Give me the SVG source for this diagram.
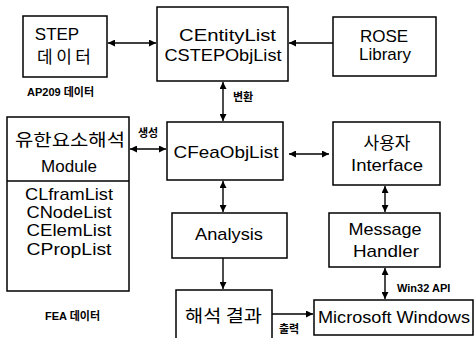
<svg xmlns="http://www.w3.org/2000/svg" width="476" height="338" viewBox="0 0 476 338">
<defs>
<marker id="ah" viewBox="0 0 10 10" refX="10" refY="5" markerWidth="8" markerHeight="7" markerUnits="userSpaceOnUse" orient="auto-start-reverse">
<path d="M0,0 L10,5 L0,10 z" fill="#000"/>
</marker>
<style>
.box{fill:#fff;stroke:#000;stroke-width:1.5}
.t{font-family:"Liberation Sans","Noto Sans CJK KR",sans-serif;font-size:17px;fill:#000;text-anchor:middle}
.k{font-family:"Noto Sans CJK KR","Liberation Sans",sans-serif;font-size:17px;fill:#000;text-anchor:middle}
.s{font-family:"Liberation Sans","Noto Sans CJK KR",sans-serif;font-size:11px;font-weight:bold;fill:#000}
.c{stroke:#000;stroke-width:1.4;fill:none}
.d{marker-start:url(#ah);marker-end:url(#ah)}
.e{marker-end:url(#ah)}
</style>
</defs>
<g id="connectors">
<line class="c d" x1="108" y1="43" x2="156" y2="43"/>
<line class="c e" x1="333" y1="43" x2="289" y2="43"/>
<line class="c d" x1="223" y1="82" x2="223" y2="121"/>
<line class="c d" x1="130" y1="149" x2="166" y2="149"/>
<line class="c d" x1="289" y1="154" x2="329" y2="154"/>
<line class="c d" x1="223" y1="181" x2="223" y2="212"/>
<line class="c e" x1="223" y1="258" x2="223" y2="289"/>
<line class="c d" x1="385" y1="186" x2="385" y2="212"/>
<line class="c d" x1="385" y1="268" x2="385" y2="299"/>
<line class="c e" x1="272" y1="314" x2="313" y2="314"/>
</g>
<g id="step">
<rect class="box" x="23" y="16" width="84" height="61"/>
<text class="t" x="57" y="40">STEP</text>
<text class="k" x="64" y="63" font-size="15" textLength="54" lengthAdjust="spacing">데이터</text>
</g>
<g id="ap209"><text class="s" x="27" y="96">AP209 데이터</text></g>
<g id="centity">
<rect class="box" x="157" y="7" width="131" height="74"/>
<text class="t" x="227.5" y="41" textLength="97" lengthAdjust="spacingAndGlyphs">CEntityList</text>
<text class="t" x="223" y="61" textLength="117" lengthAdjust="spacingAndGlyphs">CSTEPObjList</text>
</g>
<g id="rose">
<rect class="box" x="333" y="17" width="103" height="59"/>
<text class="t" x="384" y="42">ROSE</text>
<text class="t" x="385" y="60">Library</text>
</g>
<g id="henhwan"><text class="s" x="233" y="101">변환</text></g>
<g id="saengseong"><text class="s" x="138" y="137">생성</text></g>
<g id="fem">
<rect class="box" x="7" y="117" width="122" height="174"/>
<line class="c" x1="7" y1="181" x2="129" y2="181"/>
<text class="k" x="70" y="146" font-size="18" textLength="110" lengthAdjust="spacingAndGlyphs">유한요소해석</text>
<text class="t" x="69" y="172">Module</text>
<text class="t" x="69" y="200" textLength="88" lengthAdjust="spacingAndGlyphs">CLframList</text>
<text class="t" x="69" y="218" textLength="85" lengthAdjust="spacingAndGlyphs">CNodeList</text>
<text class="t" x="69" y="236" textLength="85" lengthAdjust="spacingAndGlyphs">CElemList</text>
<text class="t" x="69" y="255" textLength="85" lengthAdjust="spacingAndGlyphs">CPropList</text>
</g>
<g id="fea"><text class="s" x="45" y="320" font-weight="normal">FEA 데이터</text></g>
<g id="cfea">
<rect class="box" x="167" y="122" width="116" height="58"/>
<text class="t" x="226" y="158" textLength="105" lengthAdjust="spacingAndGlyphs">CFeaObjList</text>
</g>
<g id="user">
<rect class="box" x="333" y="122" width="107" height="63"/>
<text class="k" x="387" y="149">사용자</text>
<text class="t" x="387" y="171" textLength="72" lengthAdjust="spacingAndGlyphs">Interface</text>
</g>
<g id="analysis">
<rect class="box" x="172" y="213" width="115" height="45"/>
<text class="t" x="229" y="240" textLength="68" lengthAdjust="spacingAndGlyphs">Analysis</text>
</g>
<g id="message">
<rect class="box" x="329" y="213" width="111" height="54"/>
<text class="t" x="385" y="235" textLength="73" lengthAdjust="spacingAndGlyphs">Message</text>
<text class="t" x="386" y="257" textLength="66" lengthAdjust="spacingAndGlyphs">Handler</text>
</g>
<g id="result">
<path class="box" d="M176,339 V290 H272 V339"/>
<text class="k" x="223.5" y="322" font-size="16" textLength="77" lengthAdjust="spacingAndGlyphs">해석 결과</text>
</g>
<g id="output"><text class="s" x="279" y="333">출력</text></g>
<g id="win32"><text class="s" x="397" y="292">Win32 API</text></g>
<g id="windows">
<rect class="box" x="314" y="300" width="159" height="35"/>
<text class="t" x="394" y="323" font-size="18" textLength="152" lengthAdjust="spacingAndGlyphs">Microsoft Windows</text>
</g>
</svg>
